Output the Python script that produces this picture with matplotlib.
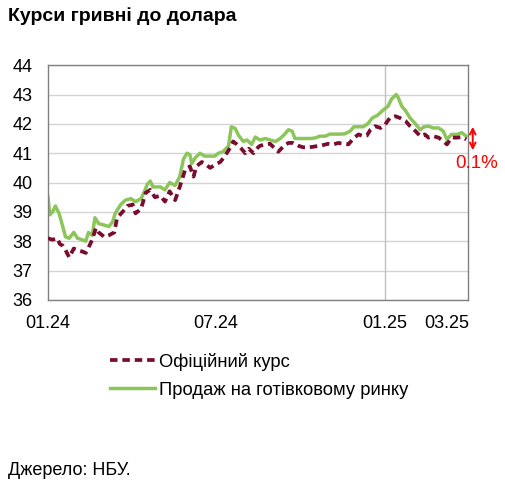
import pandas as pd
import matplotlib
matplotlib.use('Agg')
from matplotlib import pyplot as plt

plt.rcParams['font.family'] = ['Liberation Sans', 'DejaVu Sans']

title = 'Курси гривні до долара'
source = 'Джерело: НБУ.'
labelOfficial = 'Офіційний курс'
labelCash = 'Продаж на готівковому ринку'

# days since 01.01.2024
cashDays = [0, 2, 5, 8, 12, 16, 19, 23, 28, 32, 37, 41, 44, 48, 51, 55, 61, 66, 70, 73,
            79, 84, 90, 95, 101, 104, 108, 111, 114, 122, 127, 132, 138, 143, 147, 151, 154, 156, 160, 165,
            170, 176, 181, 185, 190, 196, 199, 203, 207, 212, 216, 221, 225, 230, 236, 241, 247, 252, 257, 261,
            265, 268, 274, 279, 285, 290, 295, 301, 306, 312, 317, 322, 328, 332, 337, 342, 347, 352, 358, 363,
            369, 373, 378, 380, 384, 388, 393, 398, 404, 408, 413, 418, 424, 429, 433, 438, 444, 449, 454]
cashRate = [39.5, 38.9, 39.0, 39.2, 38.95, 38.5, 38.15, 38.1, 38.3, 38.1, 38.05, 38.0, 38.3, 38.2, 38.8, 38.6, 38.55, 38.5, 38.65, 38.95,
            39.25, 39.4, 39.45, 39.35, 39.45, 39.65, 39.95, 40.05, 39.85, 39.85, 39.75, 40.0, 39.9, 40.2, 40.8, 41.0, 40.95, 40.65, 40.85, 41.0,
            40.9, 40.9, 40.9, 41.0, 41.05, 41.25, 41.9, 41.85, 41.6, 41.4, 41.45, 41.3, 41.55, 41.45, 41.5, 41.45, 41.4, 41.5, 41.65, 41.8,
            41.75, 41.5, 41.5, 41.5, 41.5, 41.52, 41.58, 41.58, 41.65, 41.65, 41.65, 41.66, 41.75, 41.9, 41.9, 41.9, 42.0, 42.2, 42.3, 42.45,
            42.6, 42.85, 43.0, 42.9, 42.6, 42.45, 42.2, 42.03, 41.8, 41.9, 41.92, 41.86, 41.86, 41.75, 41.47, 41.64, 41.64, 41.7, 41.58]

officialDays = [0, 5, 10, 13, 16, 19, 23, 28, 32, 37, 41, 45, 48, 52, 55, 61, 66, 72, 75, 81,
                86, 92, 95, 101, 106, 111, 116, 122, 127, 132, 138, 143, 149, 154, 158, 161, 167, 172, 176, 181,
                187, 192, 198, 201, 205, 210, 214, 218, 223, 228, 230, 236, 241, 245, 250, 256, 261, 266, 272, 277,
                283, 288, 294, 299, 304, 310, 315, 321, 326, 332, 337, 342, 346, 350, 355, 361, 366, 371, 377, 382,
                388, 393, 399, 404, 409, 413, 418, 424, 429, 433, 438, 444, 449, 454]
officialRate = [38.1, 38.05, 38.1, 37.9, 37.85, 37.7, 37.45, 37.75, 37.7, 37.65, 37.6, 37.85, 38.05, 38.45, 38.3, 38.15, 38.2, 38.3, 38.8, 39.0,
                39.2, 39.25, 38.95, 39.1, 39.65, 39.75, 39.5, 39.55, 39.35, 39.7, 39.4, 39.85, 40.45, 40.55, 40.2, 40.55, 40.7, 40.6, 40.5, 40.6,
                40.7, 40.9, 41.2, 41.4, 41.3, 41.15, 41.0, 41.15, 41.0, 41.2, 41.25, 41.3, 41.32, 41.2, 41.05, 41.25, 41.35, 41.35, 41.25, 41.2,
                41.2, 41.22, 41.25, 41.28, 41.32, 41.3, 41.35, 41.32, 41.3, 41.52, 41.64, 41.58, 41.6, 41.8, 41.92, 41.86, 41.98, 42.2, 42.26, 42.2,
                42.1, 41.92, 41.75, 41.58, 41.64, 41.53, 41.58, 41.53, 41.41, 41.3, 41.53, 41.53, 41.55, 41.47]

tickDates = ['2024-01-01', '2024-07-01', '2025-01-01', '2025-03-09']
tickLabels = ['01.24', '07.24', '01.25', '03.25']
yTicks = [36, 37, 38, 39, 40, 41, 42, 43, 44]

start = pd.Timestamp('2024-01-01')
cashDates = start + pd.to_timedelta(cashDays, unit='D')
officialDates = start + pd.to_timedelta(officialDays, unit='D')

def main():
	fig = plt.figure(figsize=(5.05, 4.9), dpi=100)
	ax = fig.add_axes([0.095, 0.388, 0.832, 0.479])

	ax.plot(officialDates, officialRate, color='#7a0c2e', lw=2.7, dashes=(2.0, 1.3), label=labelOfficial, zorder=3)
	ax.plot(cashDates, cashRate, color='#8cc65a', lw=2.5, label=labelCash, zorder=2)

	ax.set_ylim(36, 44)
	ax.set_yticks(yTicks)
	ax.set_xlim(pd.Timestamp('2024-01-01'), pd.Timestamp('2025-04-01'))
	ax.set_xticks(pd.to_datetime(tickDates))
	ax.set_xticklabels(tickLabels)
	ax.tick_params(axis='both', length=0, labelsize=13, colors='black')
	ax.tick_params(axis='y', pad=11)
	ax.tick_params(axis='x', pad=11)

	ax.grid(axis='y', color='#d4d4d4', lw=1)
	ax.axvline(pd.Timestamp('2025-01-01'), color='#c0c0c0', lw=1, zorder=1)
	ax.set_axisbelow(True)
	for s in ax.spines.values():
		s.set_color('#808080')
		s.set_linewidth(1)

	# change arrow
	xArrow = start + pd.Timedelta(days=461)
	ax.annotate('', xy=(xArrow, 41.9), xytext=(xArrow, 41.1), annotation_clip=False,
		arrowprops=dict(arrowstyle='<->', color='red', lw=1.4, shrinkA=0, shrinkB=0, mutation_scale=10))
	ax.text(start + pd.Timedelta(days=465), 40.66, '0.1%', color='red', fontsize=13.5,
		ha='center', va='center', clip_on=False)

	fig.text(0.016, 0.967, title, fontsize=14, fontweight='bold', va='center', ha='left')
	fig.text(0.016, 0.04, source, fontsize=13, va='center', ha='left')

	fig.legend(loc='upper left', bbox_to_anchor=(0.218, 0.28), frameon=False, fontsize=13.2,
		handlelength=2.45, handletextpad=0.2, labelspacing=0.6, borderpad=0, borderaxespad=0)

	fig.savefig('out.png', dpi=100)

main()
